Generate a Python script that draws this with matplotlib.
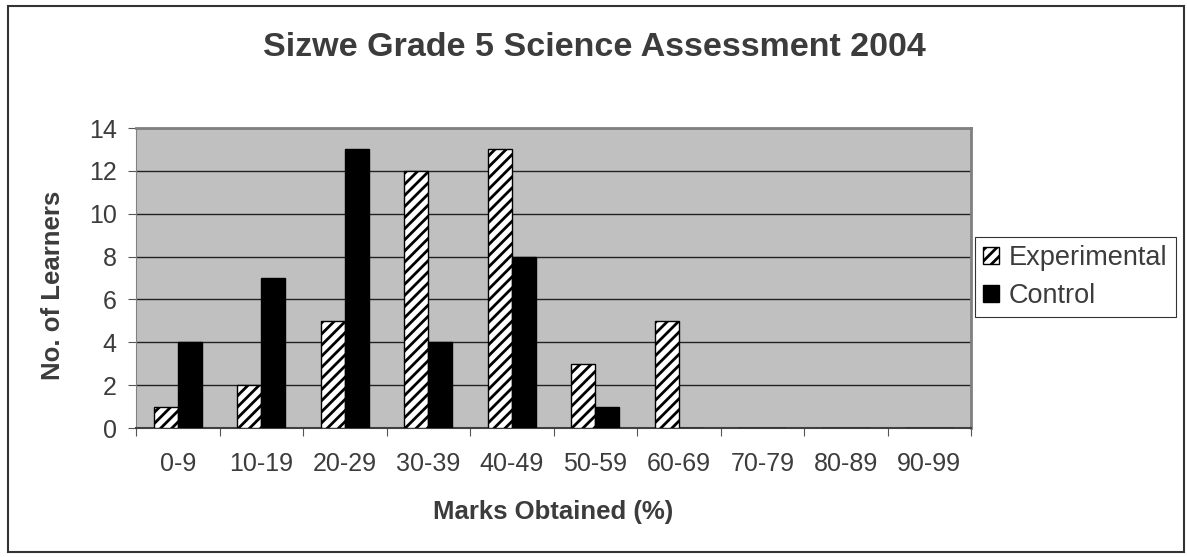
import numpy as np
import matplotlib.pyplot as plt
from matplotlib.patches import Rectangle

# ── Data ────────────────────────────────────────────────────────────────
categories   = ['0-9', '10-19', '20-29', '30-39', '40-49',
                '50-59', '60-69', '70-79', '80-89', '90-99']
experimental = [1, 2, 5, 12, 13, 3, 5, 0, 0, 0]
control      = [4, 7, 13, 4, 8, 1, 0, 0, 0, 0]

TXT = '#3c3c3c'
W, H = 1187, 557
plt.rcParams['font.family'] = ['Liberation Sans', 'DejaVu Sans']
plt.rcParams['hatch.linewidth'] = 2.0

fig = plt.figure(figsize=(W/100, H/100), dpi=100, facecolor='white')
ax = fig.add_axes([136/W, 1-428/H, (971-136)/W, 300/H])
ax.set_facecolor('#c0c0c0')

x = np.arange(len(categories))
w = 0.285
ax.bar(x - w/2, experimental, w, facecolor='white', edgecolor='black',
       hatch='///', linewidth=1.0, label='Experimental', zorder=3)
ax.bar(x + w/2, control, w, facecolor='black', edgecolor='black',
       linewidth=1.0, label='Control', zorder=3)

ax.set_xlim(-0.5, len(categories) - 0.5)
ax.set_ylim(0, 14)
ax.set_yticks(range(0, 15, 2))
ax.yaxis.grid(True, color='#222222', linewidth=1.0, zorder=1)
ax.set_axisbelow(True)

# category boundary ticks, labels in the middle
ax.set_xticks(np.arange(-0.5, len(categories) + 0.5, 1.0))
ax.set_xticklabels([])
ax.set_xticks(x, minor=True)
ax.set_xticklabels(categories, minor=True, fontsize=18, color=TXT)
ax.tick_params(axis='x', which='major', length=6, color='#555555', direction='out')
ax.tick_params(axis='x', which='minor', length=0, pad=17)
ax.tick_params(axis='y', length=6, color='#555555', labelsize=18,
               labelcolor=TXT, pad=8)

for side in ['top', 'right']:
    ax.spines[side].set_color('#808080')
    ax.spines[side].set_linewidth(2)
ax.spines['left'].set_color('#808080')
ax.spines['bottom'].set_color('#404040')
ax.spines['bottom'].set_linewidth(1.5)

fig.text(553/W, 1-512/H, 'Marks Obtained (%)', ha='center', va='center',
         fontsize=18.5, fontweight='bold', color=TXT)
fig.text(53/W, 1-285/H, 'No. of Learners', ha='center', va='center',
         rotation=90, fontsize=18.5, fontweight='bold', color=TXT)

fig.text(594/W, 1-47/H, 'Sizwe Grade 5 Science Assessment 2004',
         ha='center', va='center', fontsize=24.5, fontweight='bold', color=TXT)

leg = fig.legend(loc='upper left', bbox_to_anchor=(975/W, 1-237/H),
                 fontsize=19.5, frameon=True, fancybox=False, edgecolor='black',
                 handlelength=0.6, handleheight=0.6, handletextpad=0.35,
                 labelspacing=0.45, borderpad=0.3, labelcolor=TXT,
                 borderaxespad=0)
leg.get_frame().set_linewidth(0.8)

# outer chart border
fig.patches.append(Rectangle((8/W, 5/H), (1184-8)/W, (551-5)/H,
                             transform=fig.transFigure, fill=False,
                             edgecolor='#333333', linewidth=1.5))

fig.savefig('out.png', dpi=100, facecolor='white')
